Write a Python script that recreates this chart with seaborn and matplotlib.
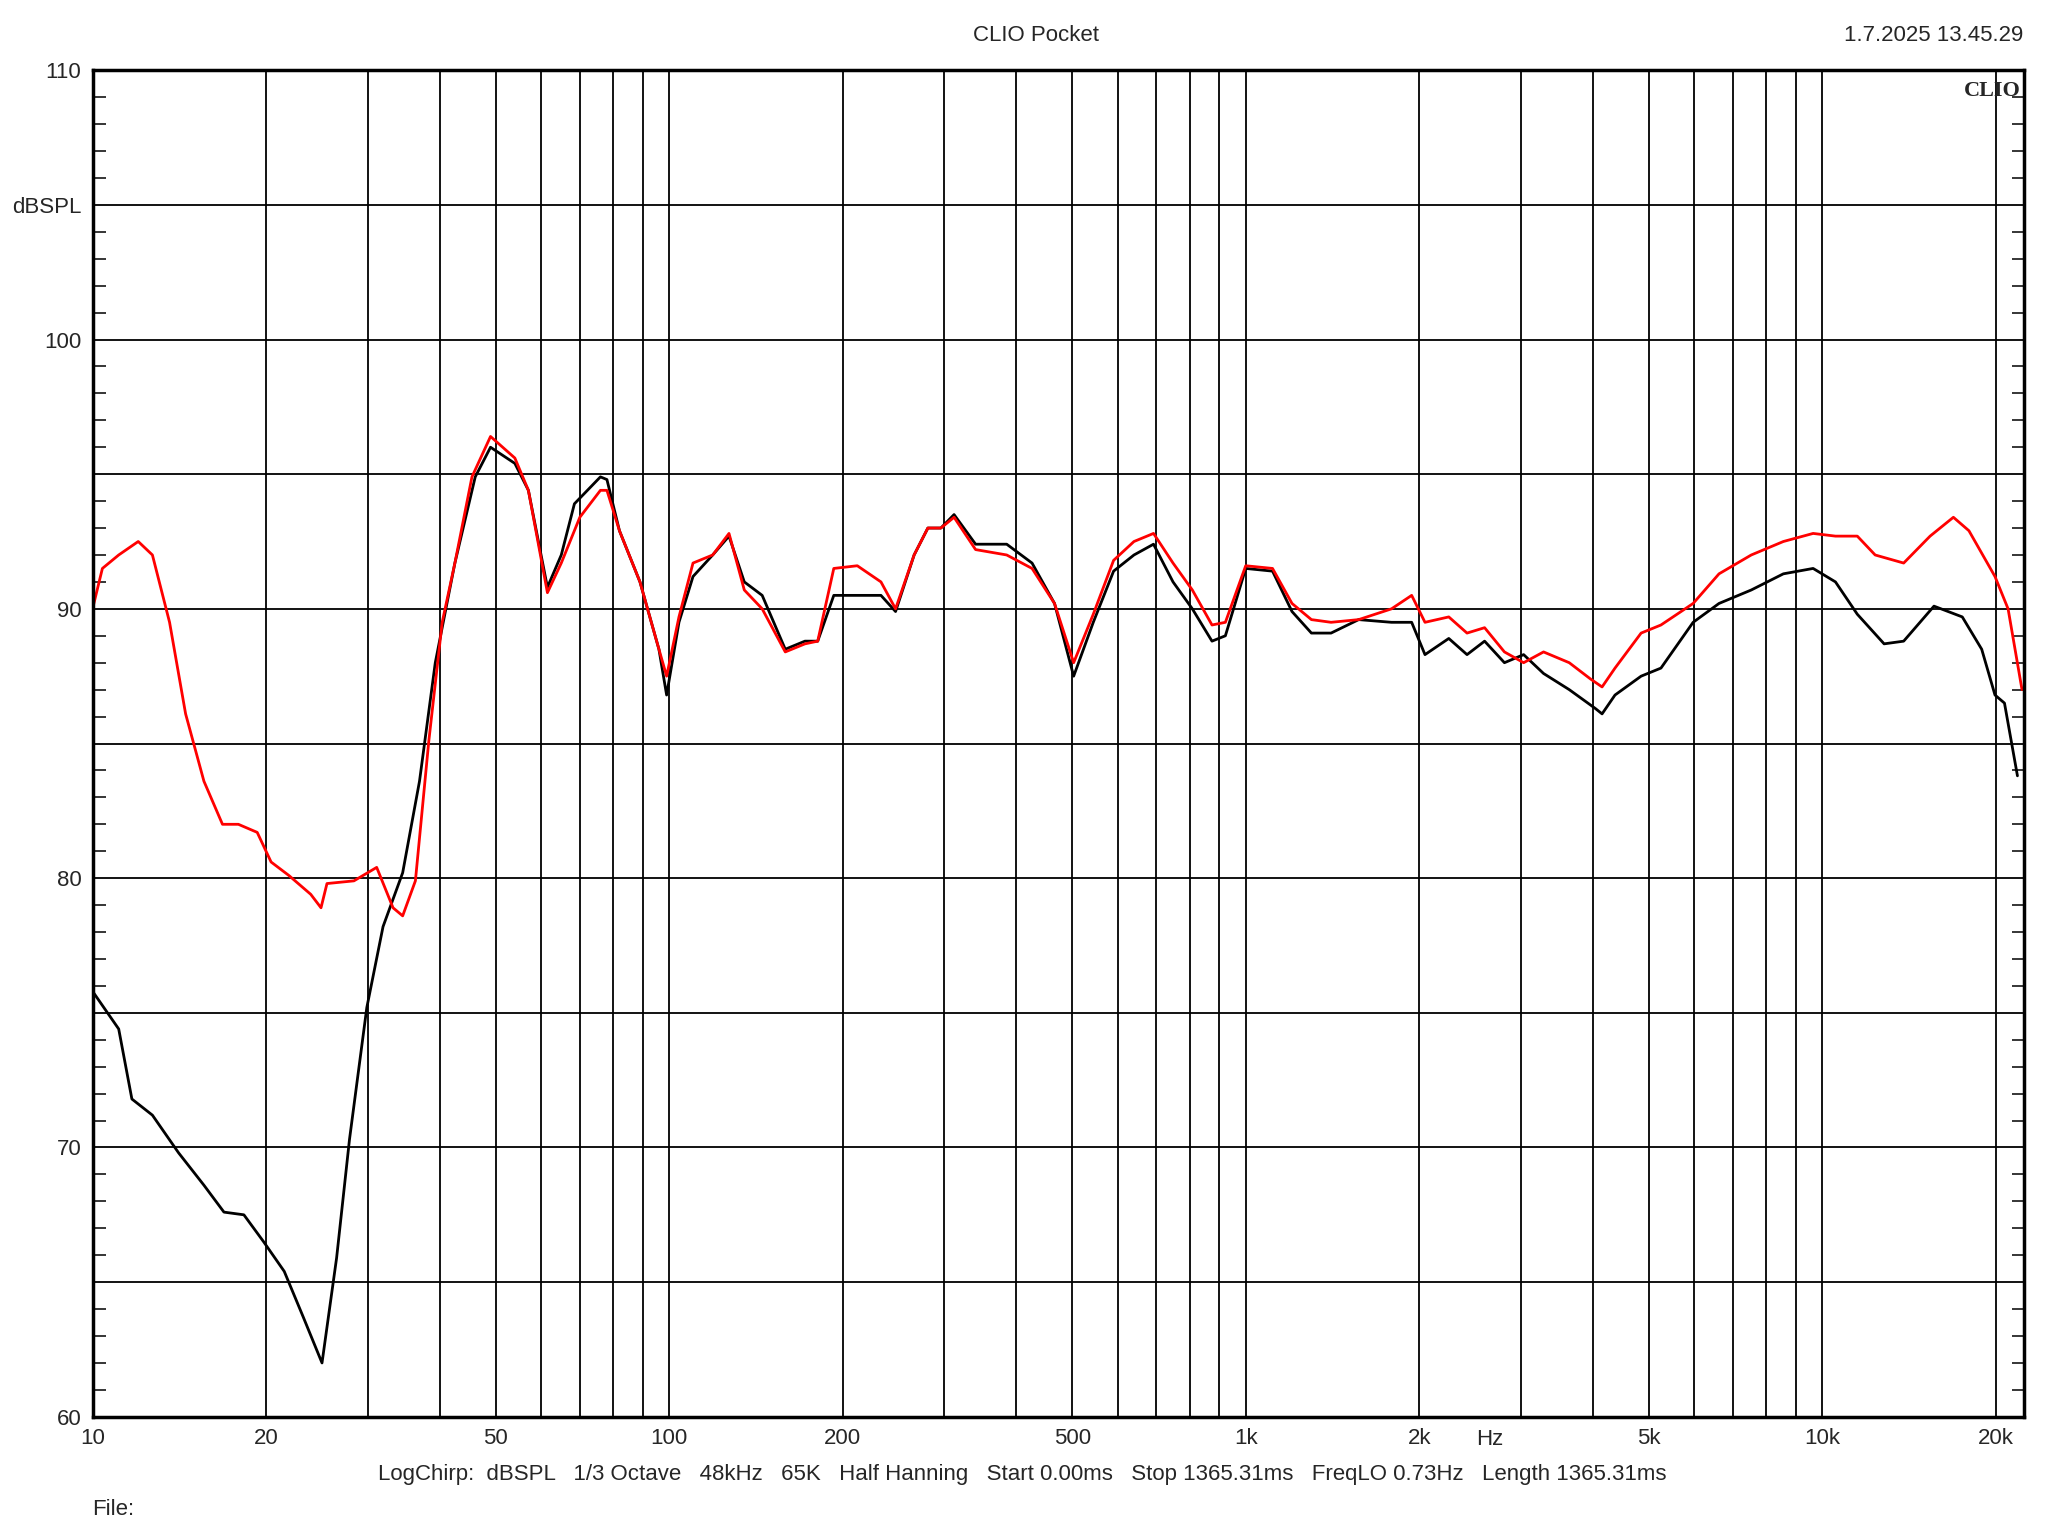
import matplotlib
matplotlib.use("Agg")
import matplotlib.pyplot as plt
import seaborn as sns
from matplotlib.ticker import FixedLocator, MultipleLocator, NullFormatter, FuncFormatter

# Frequency response, black trace (Hz, dBSPL)
black_hz = [10, 11.1, 11.7, 12.7, 14.1, 15.6, 16.9, 18.3, 19.8, 21.5, 23.2, 25.0,
            26.5, 27.9, 29.9, 31.9, 34.5, 36.9, 39.3, 42.5, 46.1, 49.0, 54, 57,
            61.5, 65, 68.5, 76, 78, 82, 89, 96, 99, 104, 110, 119, 127, 135, 145,
            159, 172, 181, 193, 212, 233, 247, 266, 281, 296, 312, 340, 385, 426,
            466, 503, 544, 590, 640, 692, 748, 808, 874, 922, 1000, 1113, 1203,
            1300, 1406, 1570, 1790, 1940, 2046, 2250, 2420, 2596, 2810, 3034,
            3285, 3640, 4040, 4150, 4370, 4850, 5250, 5970, 6620, 7530, 8560,
            9640, 10540, 11500, 12800, 13840, 15620, 17490, 18900, 19930, 20700,
            21800]
black_db = [75.8, 74.4, 71.8, 71.2, 69.8, 68.6, 67.6, 67.5, 66.5, 65.4, 63.7, 62.0,
            65.9, 70.3, 75.2, 78.2, 80.2, 83.6, 88.0, 91.7, 94.9, 96.0, 95.4, 94.4,
            90.8, 92.0, 93.9, 94.9, 94.8, 92.9, 91.0, 88.5, 86.8, 89.5, 91.2, 92.0,
            92.7, 91.0, 90.5, 88.5, 88.8, 88.8, 90.5, 90.5, 90.5, 89.9, 92.0, 93.0,
            93.0, 93.5, 92.4, 92.4, 91.7, 90.2, 87.5, 89.5, 91.4, 92.0, 92.4, 91.0,
            90.0, 88.8, 89.0, 91.5, 91.4, 89.9, 89.1, 89.1, 89.6, 89.5, 89.5, 88.3,
            88.9, 88.3, 88.8, 88.0, 88.3, 87.6, 87.0, 86.3, 86.1, 86.8, 87.5, 87.8,
            89.5, 90.2, 90.7, 91.3, 91.5, 91.0, 89.8, 88.7, 88.8, 90.1, 89.7, 88.5,
            86.8, 86.5, 83.8]

# Red trace
red_hz = [10, 10.4, 11.1, 12.0, 12.7, 13.6, 14.5, 15.6, 16.8, 17.9, 19.3, 20.4,
          21.9, 23.9, 24.9, 25.5, 28.4, 31.1, 33.2, 34.5, 36.3, 38.3, 40.4, 42.5,
          45.5, 49, 54, 57, 61.5, 65, 70, 76, 78, 82, 89, 96, 99, 104, 110, 119,
          127, 135, 145, 159, 172, 181, 193, 212, 233, 247, 266, 281, 296, 312,
          340, 385, 426, 466, 503, 544, 590, 640, 692, 748, 808, 874, 922, 1000,
          1113, 1203, 1300, 1406, 1570, 1790, 1940, 2046, 2250, 2420, 2596, 2810,
          3034, 3285, 3640, 3960, 4150, 4370, 4850, 5250, 5970, 6620, 7530, 8560,
          9640, 10540, 11500, 12350, 13840, 15380, 16880, 17960, 19930, 21000, 22200]
red_db = [90.0, 91.5, 92.0, 92.5, 92.0, 89.5, 86.1, 83.6, 82.0, 82.0, 81.7, 80.6,
          80.1, 79.4, 78.9, 79.8, 79.9, 80.4, 78.9, 78.6, 79.9, 85.1, 89.5, 91.7,
          94.9, 96.4, 95.6, 94.4, 90.6, 91.7, 93.4, 94.4, 94.4, 92.9, 91.0, 88.5,
          87.5, 89.7, 91.7, 92.0, 92.8, 90.7, 90.0, 88.4, 88.7, 88.8, 91.5, 91.6,
          91.0, 90.0, 92.0, 93.0, 93.0, 93.4, 92.2, 92.0, 91.5, 90.2, 88.0, 89.8,
          91.8, 92.5, 92.8, 91.7, 90.7, 89.4, 89.5, 91.6, 91.5, 90.2, 89.6, 89.5,
          89.6, 90.0, 90.5, 89.5, 89.7, 89.1, 89.3, 88.4, 88.0, 88.4, 88.0, 87.4,
          87.1, 87.8, 89.1, 89.4, 90.2, 91.3, 92.0, 92.5, 92.8, 92.7, 92.7, 92.0,
          91.7, 92.7, 93.4, 92.9, 91.2, 90.0, 87.0]

x_labels = {10: "10", 20: "20", 50: "50", 100: "100", 200: "200", 500: "500",
            1000: "1k", 2000: "2k", 5000: "5k", 10000: "10k", 20000: "20k"}
y_labels = [60, 70, 80, 90, 100, 110]

sns.set_style("white")
plt.rcParams["font.family"] = ["Liberation Sans", "DejaVu Sans"]
FS = 16

fig = plt.figure(figsize=(20.48, 15.36), dpi=100)
ax = fig.add_axes([0.0452, 0.0776, 0.9432, 0.8767])

sns.lineplot(x=black_hz, y=black_db, ax=ax, color="black", lw=2, estimator=None, sort=False)
sns.lineplot(x=red_hz, y=red_db, ax=ax, color="#ff0000", lw=2, estimator=None, sort=False)

ax.set_xscale("log")
grid_x = [m * 10 ** e for e in range(1, 4) for m in range(1, 10)] + [10000, 20000]
ax.xaxis.set_major_locator(FixedLocator(grid_x))
ax.xaxis.set_minor_locator(FixedLocator([]))
ax.xaxis.set_major_formatter(FuncFormatter(lambda v, p: x_labels.get(int(round(v)), "")))
ax.xaxis.set_minor_formatter(NullFormatter())
ax.yaxis.set_major_locator(FixedLocator(range(60, 111, 5)))
ax.yaxis.set_minor_locator(MultipleLocator(1))


def y_fmt(v, p):
    v = int(round(v))
    if v in y_labels:
        return "%d" % v
    return "dBSPL" if v == 105 else ""


ax.yaxis.set_major_formatter(FuncFormatter(y_fmt))
ax.yaxis.set_minor_formatter(NullFormatter())
ax.set_xlim(10, 22400)
ax.set_ylim(60, 110)
ax.grid(True, which="major", color="black", lw=1.3)
ax.tick_params(axis="both", which="both", direction="in", labelsize=FS, length=0, pad=8)
ax.tick_params(axis="y", which="minor", length=9, width=1.3, left=True, right=True)
for s in ax.spines.values():
    s.set_linewidth(2.5)
    s.set_color("black")
ax.set_xlabel("")
ax.set_ylabel("")

ax.text(2650, 59.55, "Hz", ha="center", va="top", fontsize=FS)
ax.text(0.998, 0.992, "CLIO", transform=ax.transAxes, ha="right", va="top",
        fontsize=FS, fontweight="bold", family="Liberation Serif")
fig.text(0.506, 0.977, "CLIO Pocket", ha="center", va="center", fontsize=FS)
fig.text(0.988, 0.977, "1.7.2025 13.45.29", ha="right", va="center", fontsize=FS)
fig.text(0.499, 0.040, "LogChirp:  dBSPL   1/3 Octave   48kHz   65K   Half Hanning   "
         "Start 0.00ms   Stop 1365.31ms   FreqLO 0.73Hz   Length 1365.31ms",
         ha="center", va="center", fontsize=FS)
fig.text(0.045, 0.017, "File:", ha="left", va="center", fontsize=FS)

fig.savefig("out.png", dpi=100)
